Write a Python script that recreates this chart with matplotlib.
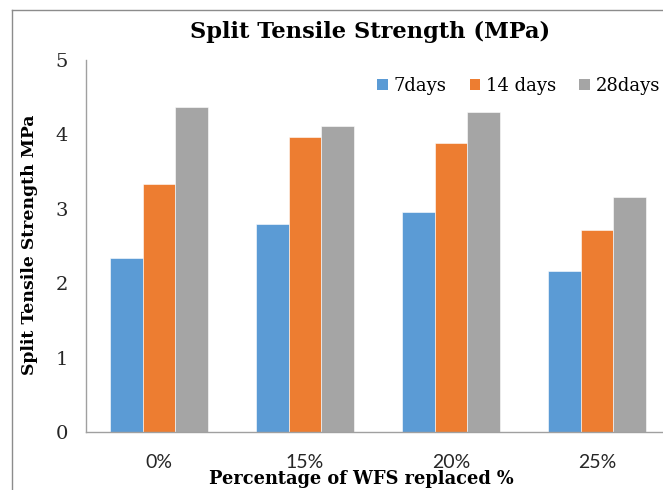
import matplotlib
matplotlib.use("Agg")
import matplotlib.pyplot as plt
import numpy as np
from matplotlib.lines import Line2D
from matplotlib.patches import Patch

categories = ["0%", "15%", "20%", "25%"]
series_names = ["7days", "14 days", "28days"]
days7 = [2.34, 2.80, 2.96, 2.17]
days14 = [3.33, 3.97, 3.88, 2.72]
days28 = [4.37, 4.11, 4.30, 3.16]
yticks = [0, 1, 2, 3, 4, 5]

colors = ["#5B9BD5", "#ED7D31", "#A5A5A5"]
serif = ["DejaVu Serif"]
sans = ["Lato", "DejaVu Sans"]

W, H = 663, 490
fig = plt.figure(figsize=(W / 100, H / 100), dpi=100)
fig.patch.set_facecolor("white")

# chart frame (left and top edges visible)
fig.add_artist(Line2D([12 / W, 12 / W], [0, 1 - 10 / H], color="#8C8C8C", lw=1.0))
fig.add_artist(Line2D([12 / W, 1], [1 - 10 / H, 1 - 10 / H], color="#8C8C8C", lw=1.0))

left, right, top, bottom = 86, 670, 60, 432
ax = fig.add_axes([left / W, 1 - bottom / H, (right - left) / W, (bottom - top) / H])

x = np.arange(len(categories))
bw = 0.222
for i, (vals, name) in enumerate(zip([days7, days14, days28], series_names)):
    ax.bar(x + (i - 1) * bw, vals, width=bw, color=colors[i], label=name,
           edgecolor="white", linewidth=0.4, zorder=2)

ax.set_xlim(-0.5, len(categories) - 0.5)
ax.set_ylim(0, 5)
ax.set_yticks(yticks)
ax.set_yticklabels([str(t) for t in yticks], fontfamily=serif, fontsize=14)
ax.set_xticks(x)
ax.set_xticklabels(categories, fontfamily=sans, fontsize=14)
ax.tick_params(axis="both", length=0, colors="#262626")
ax.tick_params(axis="y", pad=13)
ax.tick_params(axis="x", pad=16)
for s in ["top", "right"]:
    ax.spines[s].set_visible(False)
for s in ["left", "bottom"]:
    ax.spines[s].set_color("#A0A0A0")
    ax.spines[s].set_linewidth(1.0)

fig.text(370 / W, 1 - 32 / H, "Split Tensile Strength (MPa)", ha="center", va="center",
         fontfamily=serif, fontsize=16.2, fontweight="bold", color="#000000")
fig.text(30 / W, 1 - 245 / H, "Split Tensile Strength MPa", ha="center", va="center",
         rotation=90, fontfamily=serif, fontsize=12.4, fontweight="bold", color="#000000")
fig.text(361 / W, 1 - 479 / H, "Percentage of WFS replaced %", ha="center", va="center",
         fontfamily=serif, fontsize=12.8, fontweight="bold", color="#000000")

handles = [Patch(facecolor=c, edgecolor="none") for c in colors]
leg = fig.legend(handles, series_names, loc="center left", bbox_to_anchor=(377 / W, 1 - 86 / H),
                 ncol=3, frameon=False, prop={"family": serif, "size": 13},
                 borderpad=0, borderaxespad=0,
                 handlelength=0.6, handleheight=0.6, handletextpad=0.3, columnspacing=1.3)

fig.savefig("out.png", dpi=100, facecolor="white")
